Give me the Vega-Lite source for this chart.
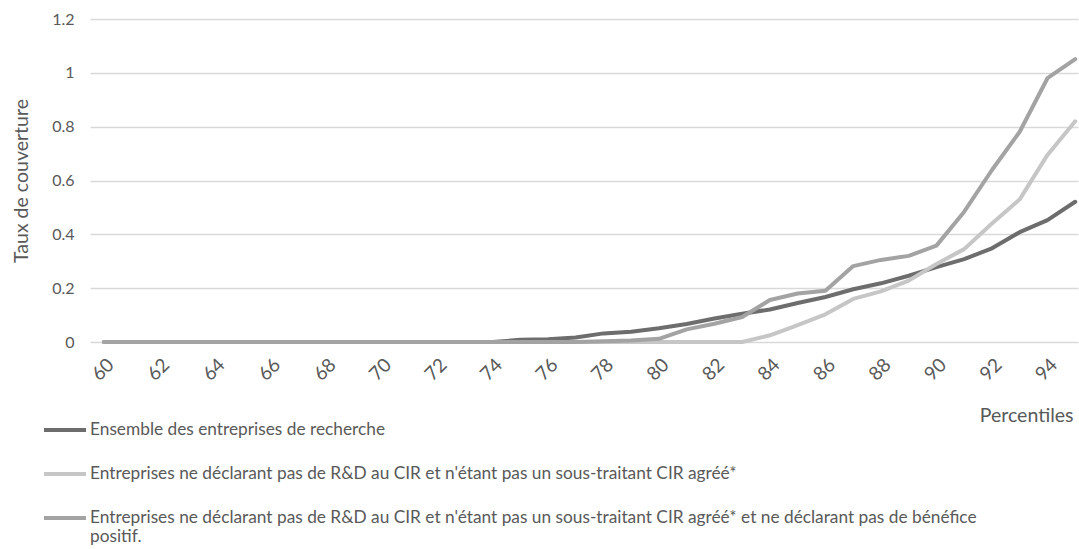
{
  "$schema": "https://vega.github.io/schema/vega-lite/v6.json",
  "width": 988,
  "height": 323,
  "autosize": "none",
  "padding": {"left": 90, "top": 19, "right": 1, "bottom": 207},
  "background": "#ffffff",
  "config": {
    "view": {"stroke": null},
    "font": "Lato",
    "axis": {"labelFont": "Lato", "titleFont": "Lato", "labelColor": "#595959", "titleColor": "#595959", "titleFontWeight": "normal"},
    "legend": {"labelFont": "Lato", "labelColor": "#595959"}
  },
  "data": {
    "values": [
      {"p":60,"s":"A","v":0},{"p":61,"s":"A","v":0},{"p":62,"s":"A","v":0},{"p":63,"s":"A","v":0},{"p":64,"s":"A","v":0},{"p":65,"s":"A","v":0},{"p":66,"s":"A","v":0},{"p":67,"s":"A","v":0},{"p":68,"s":"A","v":0},{"p":69,"s":"A","v":0},{"p":70,"s":"A","v":0},{"p":71,"s":"A","v":0},{"p":72,"s":"A","v":0},{"p":73,"s":"A","v":0},{"p":74,"s":"A","v":0},{"p":75,"s":"A","v":0.008},{"p":76,"s":"A","v":0.01},{"p":77,"s":"A","v":0.017},{"p":78,"s":"A","v":0.032},{"p":79,"s":"A","v":0.038},{"p":80,"s":"A","v":0.051},{"p":81,"s":"A","v":0.067},{"p":82,"s":"A","v":0.087},{"p":83,"s":"A","v":0.105},{"p":84,"s":"A","v":0.121},{"p":85,"s":"A","v":0.145},{"p":86,"s":"A","v":0.167},{"p":87,"s":"A","v":0.196},{"p":88,"s":"A","v":0.218},{"p":89,"s":"A","v":0.246},{"p":90,"s":"A","v":0.278},{"p":91,"s":"A","v":0.308},{"p":92,"s":"A","v":0.348},{"p":93,"s":"A","v":0.408},{"p":94,"s":"A","v":0.453},{"p":95,"s":"A","v":0.521},
      {"p":60,"s":"B","v":0},{"p":61,"s":"B","v":0},{"p":62,"s":"B","v":0},{"p":63,"s":"B","v":0},{"p":64,"s":"B","v":0},{"p":65,"s":"B","v":0},{"p":66,"s":"B","v":0},{"p":67,"s":"B","v":0},{"p":68,"s":"B","v":0},{"p":69,"s":"B","v":0},{"p":70,"s":"B","v":0},{"p":71,"s":"B","v":0},{"p":72,"s":"B","v":0},{"p":73,"s":"B","v":0},{"p":74,"s":"B","v":0},{"p":75,"s":"B","v":0},{"p":76,"s":"B","v":0},{"p":77,"s":"B","v":0},{"p":78,"s":"B","v":0},{"p":79,"s":"B","v":0},{"p":80,"s":"B","v":0},{"p":81,"s":"B","v":0},{"p":82,"s":"B","v":0},{"p":83,"s":"B","v":0},{"p":84,"s":"B","v":0.025},{"p":85,"s":"B","v":0.063},{"p":86,"s":"B","v":0.103},{"p":87,"s":"B","v":0.16},{"p":88,"s":"B","v":0.188},{"p":89,"s":"B","v":0.228},{"p":90,"s":"B","v":0.29},{"p":91,"s":"B","v":0.345},{"p":92,"s":"B","v":0.44},{"p":93,"s":"B","v":0.53},{"p":94,"s":"B","v":0.695},{"p":95,"s":"B","v":0.82},
      {"p":60,"s":"C","v":0},{"p":61,"s":"C","v":0},{"p":62,"s":"C","v":0},{"p":63,"s":"C","v":0},{"p":64,"s":"C","v":0},{"p":65,"s":"C","v":0},{"p":66,"s":"C","v":0},{"p":67,"s":"C","v":0},{"p":68,"s":"C","v":0},{"p":69,"s":"C","v":0},{"p":70,"s":"C","v":0},{"p":71,"s":"C","v":0},{"p":72,"s":"C","v":0},{"p":73,"s":"C","v":0},{"p":74,"s":"C","v":0},{"p":75,"s":"C","v":0},{"p":76,"s":"C","v":0},{"p":77,"s":"C","v":0},{"p":78,"s":"C","v":0.003},{"p":79,"s":"C","v":0.006},{"p":80,"s":"C","v":0.012},{"p":81,"s":"C","v":0.047},{"p":82,"s":"C","v":0.068},{"p":83,"s":"C","v":0.093},{"p":84,"s":"C","v":0.156},{"p":85,"s":"C","v":0.18},{"p":86,"s":"C","v":0.19},{"p":87,"s":"C","v":0.282},{"p":88,"s":"C","v":0.305},{"p":89,"s":"C","v":0.32},{"p":90,"s":"C","v":0.358},{"p":91,"s":"C","v":0.484},{"p":92,"s":"C","v":0.639},{"p":93,"s":"C","v":0.781},{"p":94,"s":"C","v":0.98},{"p":95,"s":"C","v":1.051}
    ]
  },
  "mark": {"type": "line", "strokeWidth": 4, "strokeJoin": "round", "strokeCap": "round"},
  "encoding": {
    "x": {
      "field": "p", "type": "quantitative",
      "scale": {"domain": [59.5, 95.1], "nice": false, "zero": false},
      "axis": {
        "values": [60,62,64,66,68,70,72,74,76,78,80,82,84,86,88,90,92,94],
        "labelAngle": -45, "labelAlign": "right", "labelBaseline": "top",
        "labelFontSize": 19, "labelPadding": 13,
        "domain": false, "ticks": false, "grid": false,
        "title": "Percentiles", "titleFontSize": 19.5,
        "titleAnchor": "end", "titleAlign": "right", "titleX": 983, "titleY": 73, "titleBaseline": "middle"
      }
    },
    "y": {
      "field": "v", "type": "quantitative",
      "scale": {"domain": [0, 1.2], "nice": false},
      "axis": {
        "values": [0, 0.2, 0.4, 0.6, 0.8, 1, 1.2],
        "format": "~g",
        "domain": false, "ticks": false,
        "grid": true, "gridColor": "#d9d9d9", "gridWidth": 1.3,
        "labelFontSize": 16, "labelPadding": 16,
        "title": "Taux de couverture", "titleFontSize": 19.5, "titlePadding": 20
      }
    },
    "color": {
      "field": "s", "type": "nominal",
      "scale": {"domain": ["A", "B", "C"], "range": ["#6d6d6d", "#c6c6c6", "#a3a3a3"]},
      "legend": {
        "orient": "none", "legendX": -48, "legendY": 388,
        "direction": "vertical", "title": null,
        "symbolType": "stroke", "symbolSize": 1764, "symbolStrokeWidth": 4,
        "labelFontSize": 17.3, "labelOffset": 2, "labelLimit": 1000, "rowPadding": 12,
        "labelExpr": "datum.value == 'A' ? 'Ensemble des entreprises de recherche' : datum.value == 'B' ? 'Entreprises ne déclarant pas de R&D au CIR et n\\'étant pas un sous-traitant CIR agréé*' : ['Entreprises ne déclarant pas de R&D au CIR et n\\'étant pas un sous-traitant CIR agréé* et ne déclarant pas de bénéfice', 'positif.']"
      }
    }
  }
}
